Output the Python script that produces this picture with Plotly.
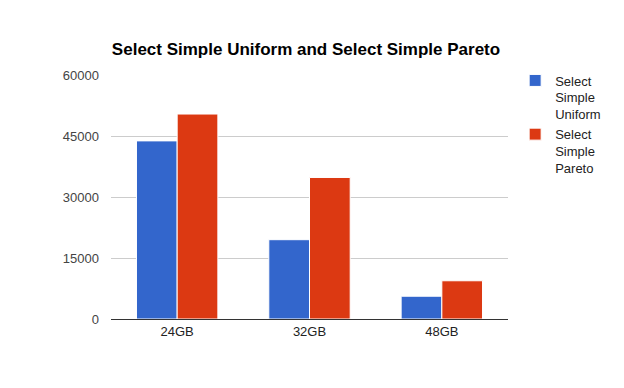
import plotly.graph_objects as go

categories = ["24GB", "32GB", "48GB"]
uniform = [43800, 19500, 5600]
pareto = [50400, 34800, 9400]
series_names = ["Select<br>Simple<br>Uniform", "Select<br>Simple<br>Pareto"]
y_ticks = [0, 15000, 30000, 45000, 60000]
y_tick_text = ["0", "15000", "30000", "45000", "60000"]

fig = go.Figure()
fig.add_trace(go.Bar(x=categories, y=uniform, name=series_names[0],
                     marker=dict(color="#3366cc", line=dict(color="white", width=1))))
fig.add_trace(go.Bar(x=categories, y=pareto, name=series_names[1],
                     marker=dict(color="#dc3912", line=dict(color="white", width=1))))

fig.update_layout(
    width=624, height=388,
    margin=dict(l=103, r=124, t=67, b=77, autoexpand=False),
    paper_bgcolor="white", plot_bgcolor="white",
    barmode="group", bargap=0.385, bargroupgap=0.0,
    font=dict(family="Liberation Sans, Arial, sans-serif", size=13, color="#444"),
    title=dict(text="<b>Select Simple Uniform and Select Simple Pareto</b>",
               x=0.4776, xanchor="center", y=0.895, yanchor="middle",
               font=dict(size=17, color="#000")),
    legend=dict(x=1.018, xanchor="left", y=1.039, yanchor="top", valign="top",
                font=dict(size=13, color="#222"), tracegroupgap=8,
                bgcolor="rgba(0,0,0,0)"),
    xaxis=dict(showgrid=False, showline=True, linecolor="#333", linewidth=1,
               ticks="", tickfont=dict(size=13, color="#222")),
    yaxis=dict(range=[0, 60000], tickvals=y_ticks, ticktext=y_tick_text,
               showgrid=True, gridcolor="#ccc",
               zeroline=False, showline=False, ticks="", ticklabelstandoff=11,
               tickfont=dict(size=13, color="#444")),
)

fig.write_html("out.html")
